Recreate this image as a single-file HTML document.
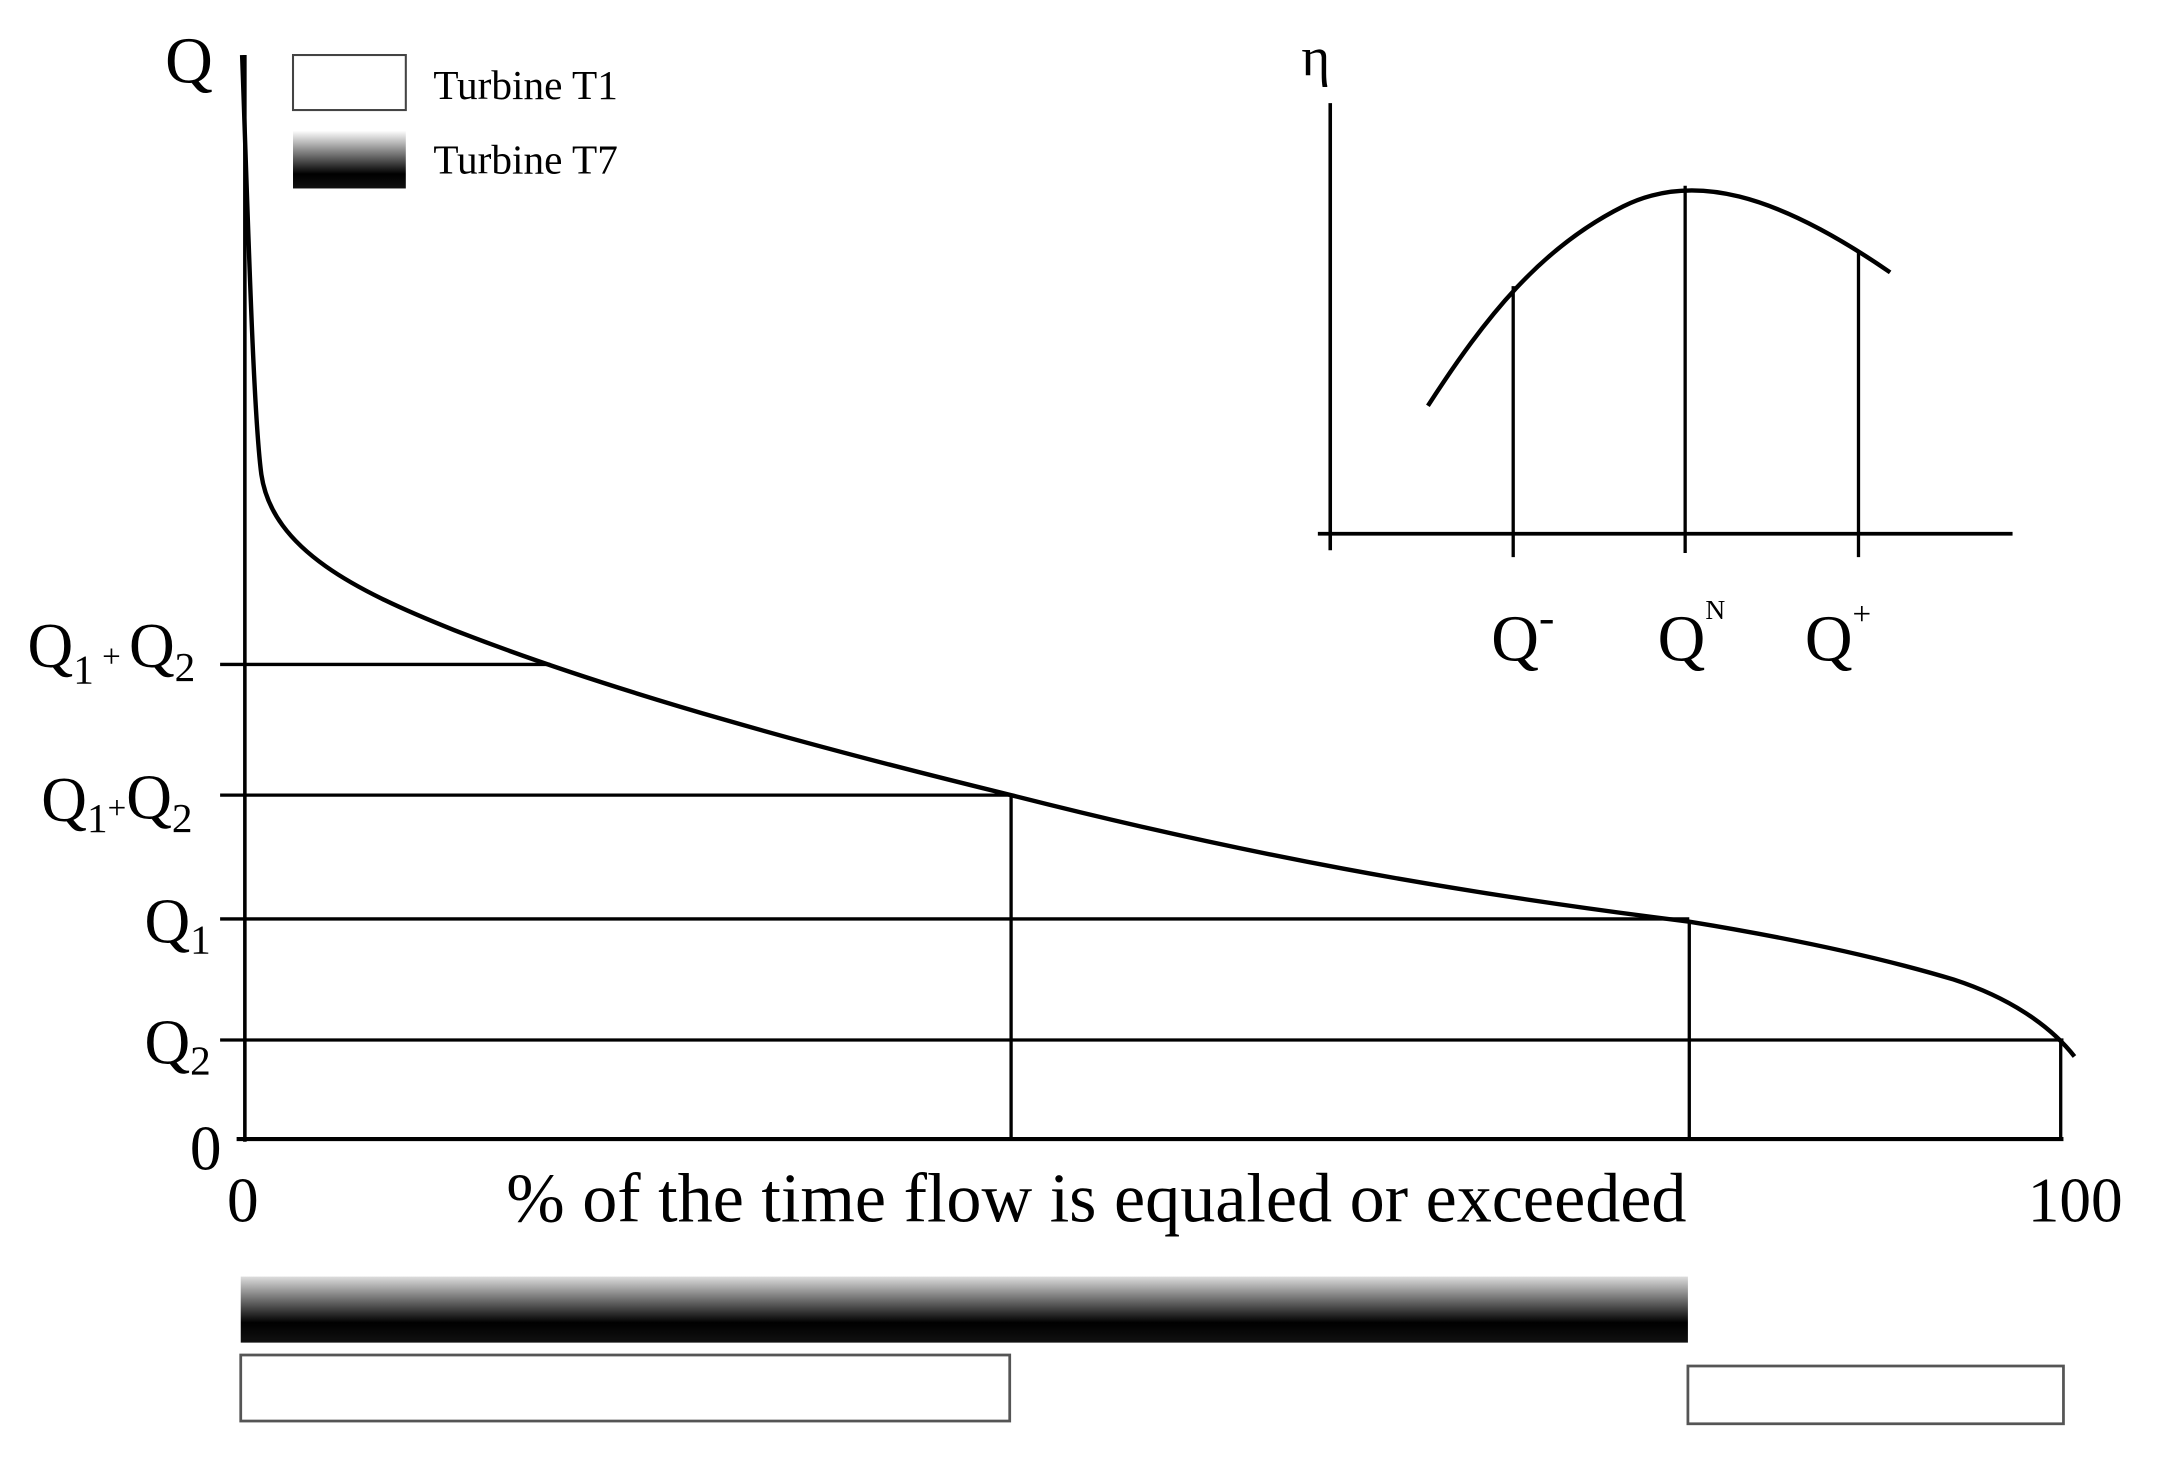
<!DOCTYPE html>
<html><head><meta charset="utf-8"><style>
html,body{margin:0;padding:0;background:#fff;}
svg{display:block;}
text{font-family:"Liberation Serif",serif;fill:#000;}
</style></head><body>
<svg width="2157" height="1459" viewBox="0 0 1568 1060.6" preserveAspectRatio="none" xmlns="http://www.w3.org/2000/svg">
<defs>
<linearGradient id="g1" x1="0" y1="0" x2="0" y2="1">
<stop offset="0" stop-color="#fff"/><stop offset="0.75" stop-color="#000"/><stop offset="1" stop-color="#111"/>
</linearGradient>
<linearGradient id="g2" x1="0" y1="0" x2="0" y2="1">
<stop offset="0" stop-color="#ddd"/><stop offset="0.7" stop-color="#000"/><stop offset="1" stop-color="#111"/>
</linearGradient>
</defs>
<g stroke="#000" fill="none" stroke-width="2.4">
<line x1="178" y1="40" x2="178" y2="830" stroke-width="2.6"/>
<line x1="172" y1="828" x2="1500" y2="828" stroke-width="3"/>
<line x1="160" y1="483" x2="400" y2="483"/>
<line x1="160" y1="578" x2="735" y2="578"/>
<line x1="160" y1="668" x2="1228" y2="668"/>
<line x1="160" y1="756" x2="1500" y2="756"/>
<line x1="735" y1="578" x2="735" y2="828"/>
<line x1="1228" y1="670" x2="1228" y2="828"/>
<line x1="1498" y1="756" x2="1498" y2="828"/>
<path d="M176,40 C180,150 184,300 190,345 C198,400 260,430 330,458 C450,505 600,545 735,578 C900,620 1050,648 1228,670 C1320,685 1380,700 1420,712 C1460,725 1490,745 1508,768" stroke-width="3.2"/>
<line x1="967" y1="75" x2="967" y2="400" stroke-width="2.6"/>
<line x1="958" y1="388" x2="1463" y2="388" stroke-width="2.8"/>
<line x1="1100" y1="208" x2="1100" y2="405"/>
<line x1="1225" y1="135" x2="1225" y2="402"/>
<line x1="1351" y1="183" x2="1351" y2="405"/>
<path d="M1038,295 C1080,230 1120,180 1180,150 C1230,125 1290,140 1374,198" stroke-width="3.2"/>
<rect x="213" y="40" width="82" height="40" stroke="#444" stroke-width="1.5"/>
<rect x="175" y="985" width="559" height="48" stroke="#555" stroke-width="2"/>
<rect x="1227" y="993" width="273" height="42" stroke="#555" stroke-width="2"/>
</g>
<rect x="213" y="95" width="82" height="42" fill="url(#g1)"/>
<rect x="175" y="928" width="1052" height="48" fill="url(#g2)"/>
<text x="120" y="60" font-size="48">Q</text>
<text x="315" y="72" font-size="30">Turbine T1</text>
<text x="315" y="126" font-size="30">Turbine T7</text>
<text x="946" y="55" font-size="40">η</text>
<text x="20" y="485" font-size="46">Q<tspan font-size="30" dy="12">1</tspan><tspan font-size="24" dy="-12"> + </tspan>Q<tspan font-size="30" dy="10">2</tspan></text>
<text x="30" y="597" font-size="46">Q<tspan font-size="30" dy="8">1</tspan><tspan font-size="24" dy="-10">+</tspan>Q<tspan font-size="30" dy="10">2</tspan></text>
<text x="105" y="685" font-size="46">Q<tspan font-size="30" dy="8">1</tspan></text>
<text x="105" y="773" font-size="46">Q<tspan font-size="30" dy="8">2</tspan></text>
<text x="138" y="850" font-size="46">0</text>
<text x="165" y="888" font-size="46">0</text>
<text x="1474" y="888" font-size="46">100</text>
<text x="368" y="888" font-size="51">% of the time flow is equaled or exceeded</text>
<text x="1084" y="480" font-size="48">Q<tspan font-size="34" dy="-20">-</tspan></text>
<text x="1205" y="480" font-size="48">Q<tspan font-size="20" dy="-30">N</tspan></text>
<text x="1312" y="480" font-size="48">Q<tspan font-size="24" dy="-26">+</tspan></text>
</svg>
</body></html>
